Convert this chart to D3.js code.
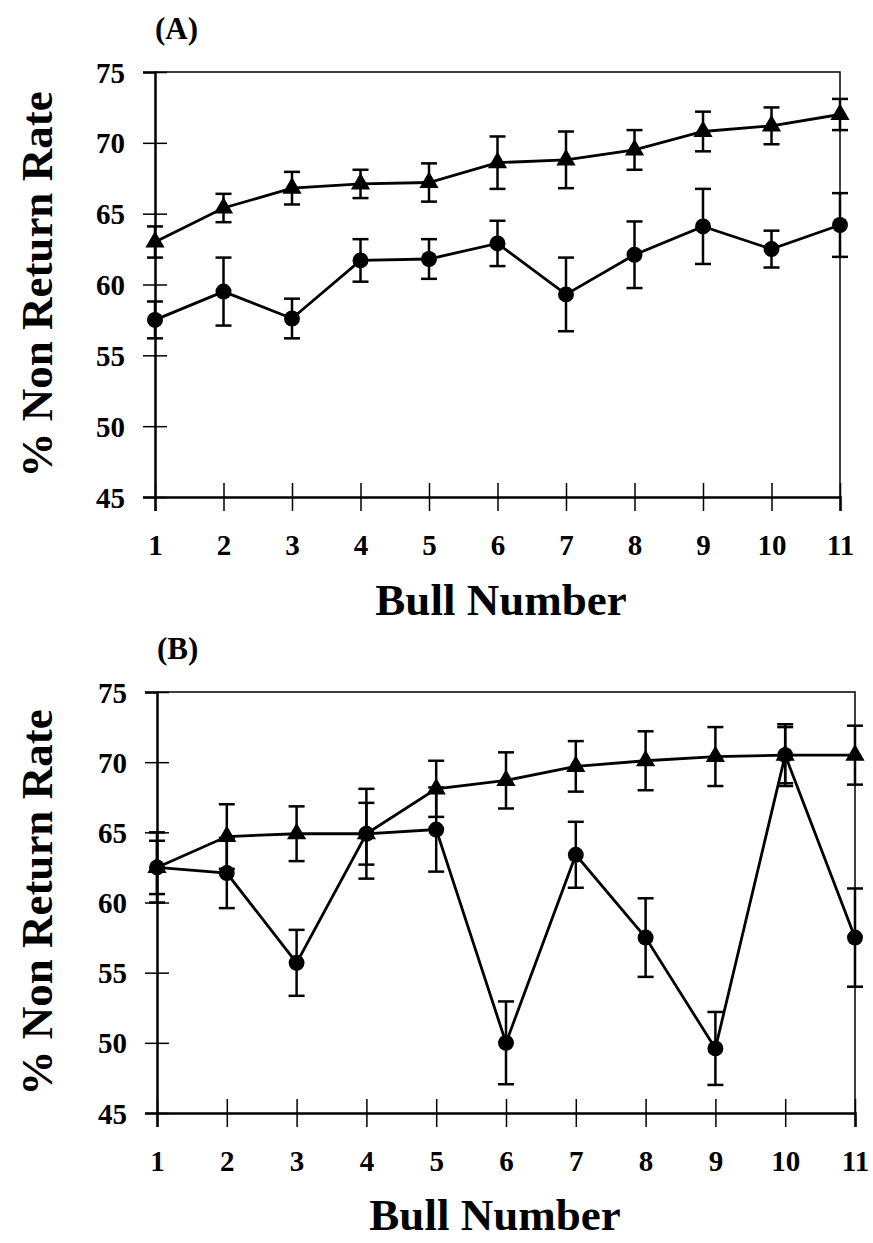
<!DOCTYPE html>
<html>
<head>
<meta charset="utf-8">
<style>
  body { margin: 0; background: #fff; }
  text { font-family: "Liberation Serif", "Times New Roman", serif; font-weight: bold; fill: #000; }
</style>
</head>
<body></body>
<script src="https://d3js.org/d3.v7.min.js"></script>
<script>
  // data
  const bulls = [1, 2, 3, 4, 5, 6, 7, 8, 9, 10, 11]
  const yTicks = [45, 50, 55, 60, 65, 70, 75]

  // panel A
  const aTriMean = [63.0, 65.4, 66.8, 67.1, 67.2, 68.6, 68.8, 69.5, 70.8, 71.2, 72.0]
  const aTriErr = [1.1, 1.0, 1.15, 1.0, 1.35, 1.85, 2.0, 1.4, 1.4, 1.3, 1.1]
  const aCirMean = [57.5, 59.5, 57.6, 61.7, 61.8, 62.9, 59.3, 62.1, 64.1, 62.5, 64.2]
  const aCirErr = [1.3, 2.4, 1.4, 1.5, 1.4, 1.6, 2.6, 2.35, 2.65, 1.3, 2.25]

  // panel B
  const bTriMean = [62.5, 64.7, 64.9, 64.9, 68.1, 68.7, 69.7, 70.1, 70.4, 70.5, 70.5]
  const bTriErr = [2.5, 2.3, 1.95, 3.2, 2.0, 2.0, 1.8, 2.1, 2.1, 2.0, 2.1]
  const bCirMean = [62.5, 62.1, 55.7, 64.9, 65.2, 50.0, 63.4, 57.5, 49.6, 70.5, 57.5]
  const bCirErr = [1.9, 2.5, 2.35, 2.2, 3.0, 2.95, 2.35, 2.8, 2.6, 2.2, 3.5]

  const svg = d3.select('body')
    .append('svg')
    .attr('width', 873)
    .attr('height', 1243)

  function drawPanel(p) {
    const x = d3.scaleLinear().domain([1, 11]).range([p.left, p.right])
    const y = d3.scaleLinear().domain([45, 75]).range([p.bottom, p.top])
    const g = svg.append('g')

    // frame top / right (thin)
    g.append('path')
      .attr('d', `M${p.left},${p.top}H${p.right}V${p.bottom}`)
      .attr('fill', 'none')
      .attr('stroke', '#000')
      .attr('stroke-width', 1.5)

    // y axis
    const yAxis = g.append('g')
      .attr('transform', `translate(${p.left},0)`)
      .call(d3.axisLeft(y).tickValues(yTicks).tickSize(12).tickPadding(0))
    yAxis.select('.domain').attr('stroke-width', 2.5)
    yAxis.selectAll('.tick line').attr('x1', 12).attr('x2', -12).attr('stroke-width', 1.5)
    yAxis.selectAll('.tick text')
      .attr('x', -30)
      .attr('dy', '0.35em')
      .style('font-size', '29px')
      .style('font-family', '"Liberation Serif", serif')
      .style('font-weight', 'bold')

    // x axis
    const xAxis = g.append('g')
      .attr('transform', `translate(0,${p.bottom})`)
      .call(d3.axisBottom(x).tickValues(bulls).tickSize(14).tickPadding(0))
    xAxis.select('.domain').attr('stroke-width', 2.5)
    xAxis.selectAll('.tick line').attr('y1', -14).attr('y2', 14).attr('stroke-width', 1.5)
    xAxis.selectAll('.tick text')
      .attr('y', 48)
      .attr('dy', '0.35em')
      .style('font-size', '29px')
      .style('font-family', '"Liberation Serif", serif')
      .style('font-weight', 'bold')

    // series
    const series = [
      { mean: p.triMean, err: p.triErr, shape: 'tri' },
      { mean: p.cirMean, err: p.cirErr, shape: 'cir' }
    ]

    series.forEach(s => {
      const pts = bulls.map((b, i) => ({ b, v: s.mean[i], e: s.err[i] }))

      const line = d3.line().x(d => x(d.b)).y(d => y(d.v))
      g.append('path')
        .datum(pts)
        .attr('d', line)
        .attr('fill', 'none')
        .attr('stroke', '#000')
        .attr('stroke-width', 2.8)

      // error bars
      const eb = g.selectAll(null).data(pts).enter().append('g')
      eb.append('line')
        .attr('x1', d => x(d.b)).attr('x2', d => x(d.b))
        .attr('y1', d => y(d.v + d.e)).attr('y2', d => y(d.v - d.e))
        .attr('stroke', '#000').attr('stroke-width', 2.5)
      eb.append('line')
        .attr('x1', d => x(d.b) - 8).attr('x2', d => x(d.b) + 8)
        .attr('y1', d => y(d.v + d.e)).attr('y2', d => y(d.v + d.e))
        .attr('stroke', '#000').attr('stroke-width', 2.5)
      eb.append('line')
        .attr('x1', d => x(d.b) - 8).attr('x2', d => x(d.b) + 8)
        .attr('y1', d => y(d.v - d.e)).attr('y2', d => y(d.v - d.e))
        .attr('stroke', '#000').attr('stroke-width', 2.5)

      // markers
      const sym = s.shape === 'tri' ? d3.symbolTriangle : d3.symbolCircle
      const size = s.shape === 'tri' ? 160 : 200
      g.selectAll(null).data(pts).enter().append('path')
        .attr('d', d3.symbol().type(sym).size(size))
        .attr('transform', d => `translate(${x(d.b)},${y(d.v)})`)
        .attr('fill', '#000')
    })

    // panel letter
    g.append('text')
      .attr('x', p.left)
      .attr('y', p.top - 33)
      .style('font-size', '31px')
      .text(p.letter)

    // axis titles
    g.append('text')
      .attr('x', p.xTitleX)
      .attr('y', p.xTitleY)
      .attr('text-anchor', 'middle')
      .style('font-size', '45px')
      .text('Bull Number')

    g.append('text')
      .attr('transform', `translate(52,${(p.top + p.bottom) / 2}) rotate(-90)`)
      .attr('text-anchor', 'middle')
      .style('font-size', '45px')
      .text('% Non Return Rate')
  }

  drawPanel({
    left: 155, right: 840, top: 72, bottom: 497, letter: '(A)',
    xTitleX: 501, xTitleY: 615,
    triMean: aTriMean, triErr: aTriErr, cirMean: aCirMean, cirErr: aCirErr
  })

  drawPanel({
    left: 157, right: 855, top: 692, bottom: 1113, letter: '(B)',
    xTitleX: 495, xTitleY: 1230,
    triMean: bTriMean, triErr: bTriErr, cirMean: bCirMean, cirErr: bCirErr
  })
</script>
</html>
